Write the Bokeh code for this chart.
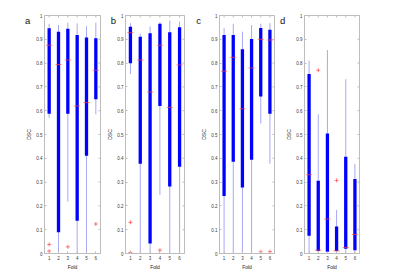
import math
from bokeh.plotting import figure
from bokeh.layouts import row
from bokeh.models import Range1d, FixedTicker, Title
from bokeh.embed import file_html
from bokeh.resources import INLINE

folds = [1, 2, 3, 4, 5, 6]
y_ticks = [0, 0.1, 0.2, 0.3, 0.4, 0.5, 0.6, 0.7, 0.8, 0.9, 1]
panel_letters = ["a", "b", "c", "d"]

# Panel a
a_q1 = [0.587, 0.089, 0.587, 0.138, 0.411, 0.648]
a_q3 = [0.946, 0.932, 0.944, 0.918, 0.908, 0.904]
a_lo = [0.570, 0.0, 0.218, 0.0, 0.0, 0.585]
a_hi = [0.965, 0.960, 0.970, 0.967, 0.955, 0.970]
a_med = [0.875, 0.794, 0.813, 0.620, 0.634, 0.770]
a_out_x = [1, 1, 3, 6]
a_out_y = [0.038, 0.010, 0.028, 0.124]

# Panel b
b_q1 = [0.799, 0.377, 0.042, 0.620, 0.282, 0.365]
b_q3 = [0.953, 0.911, 0.925, 0.965, 0.930, 0.951]
b_lo = [0.754, 0.0, 0.0, 0.246, 0.0, 0.0]
b_hi = [0.968, 0.923, 0.954, 0.972, 0.979, 0.975]
b_med = [0.928, 0.813, 0.679, 0.875, 0.614, 0.792]
b_out_x = [1, 1, 4]
b_out_y = [0.131, 0.004, 0.014]

# Panel c
c_q1 = [0.242, 0.385, 0.277, 0.394, 0.660, 0.587]
c_q3 = [0.918, 0.918, 0.858, 0.901, 0.947, 0.940]
c_lo = [0.0, 0.0, 0.0, 0.0, 0.546, 0.377]
c_hi = [0.947, 0.965, 0.932, 0.960, 0.965, 0.968]
c_med = [0.766, 0.824, 0.608, 0.780, 0.900, 0.897]
c_out_x = [5, 6]
c_out_y = [0.007, 0.008]

# Panel d
d_q1 = [0.075, 0.010, 0.007, 0.011, 0.020, 0.014]
d_q3 = [0.754, 0.306, 0.504, 0.113, 0.406, 0.313]
d_lo = [0.0, 0.0, 0.0, 0.0, 0.0, 0.0]
d_hi = [0.810, 0.585, 0.855, 0.183, 0.732, 0.376]
d_med = [0.331, 0.014, 0.145, 0.011, 0.025, 0.080]
d_out_x = [2, 4]
d_out_y = [0.770, 0.307]

GRAY = "#bdbdbd"
TICKTXT = "#3a3a3a"
FONT = "Liberation Sans"


def style_axis(ax):
    ax.axis_line_color = GRAY
    ax.major_tick_line_color = GRAY
    ax.minor_tick_line_color = None
    ax.major_tick_in = 2
    ax.major_tick_out = 0
    ax.major_label_text_font_size = "4.5px"
    ax.major_label_text_color = TICKTXT
    ax.major_label_text_font = FONT
    ax.major_label_standoff = 2
    ax.axis_label_text_font_size = "5px"
    ax.axis_label_text_font = FONT
    ax.axis_label_text_font_style = "normal"
    ax.axis_label_text_color = "#222222"
    ax.axis_label_standoff = 1


def panel(letter, q1, q3, lo, hi, med, ox, oy, width, bl, br, letter_offset):
    p = figure(width=width, height=273, output_backend="svg", toolbar_location=None,
               x_range=Range1d(0.5, 6.5), y_range=Range1d(0, 1),
               min_border_left=bl, min_border_right=br, min_border_top=15,
               min_border_bottom=20)
    p.xgrid.visible = False
    p.ygrid.visible = False
    p.outline_line_color = GRAY
    p.background_fill_color = "white"
    p.border_fill_color = "white"

    p.xaxis.ticker = FixedTicker(ticks=folds)
    p.xaxis.axis_label = "Fold"
    p.yaxis.ticker = FixedTicker(ticks=y_ticks)
    p.yaxis.major_label_overrides = {0: "0", 1: "1"}
    p.yaxis.axis_label = "DSC"
    style_axis(p.xaxis[0])
    style_axis(p.yaxis[0])

    # inward ticks on the right and top edges (MATLAB box)
    p.scatter(x=[p.x_range.end] * len(y_ticks), y=y_ticks, marker="dash", size=4,
              line_color=GRAY, line_width=1)
    p.scatter(x=folds, y=[p.y_range.end] * len(folds), marker="dash", size=4,
              angle=math.pi / 2, line_color=GRAY, line_width=1)

    # whiskers
    p.segment(x0=folds, y0=lo, x1=folds, y1=hi, line_color="#a8a8f4", line_width=1)
    # boxes
    p.segment(x0=folds, y0=q1, x1=folds, y1=q3, line_color="#0000ff", line_width=3.3)
    # medians
    p.scatter(x=folds, y=med, marker="dash", size=6, line_color="#ff4040", line_width=0.7)
    # outliers
    p.scatter(x=ox, y=oy, marker="cross", size=4, line_color="#ff4040", line_width=0.7)

    # panel letter
    p.add_layout(Title(text=letter, align="left", offset=letter_offset, standoff=-20,
                       text_font=FONT, text_font_size="9.5px", text_font_style="normal",
                       text_color="#111111"), "above")
    return p


pa = panel(panel_letters[0], a_q1, a_q3, a_lo, a_hi, a_med, a_out_x, a_out_y, 102, 44, 2, -19.5)
pb = panel(panel_letters[1], b_q1, b_q3, b_lo, b_hi, b_med, b_out_x, b_out_y, 84, 23, 2, -14.8)
pc = panel(panel_letters[2], c_q1, c_q3, c_lo, c_hi, c_med, c_out_x, c_out_y, 90, 33, 2, -23.2)
pd = panel(panel_letters[3], d_q1, d_q3, d_lo, d_hi, d_med, d_out_x, d_out_y, 124, 28, 41, -24.5)

layout = row(pa, pb, pc, pd, spacing=0)
open("out.html", "w").write(file_html(layout, INLINE))
